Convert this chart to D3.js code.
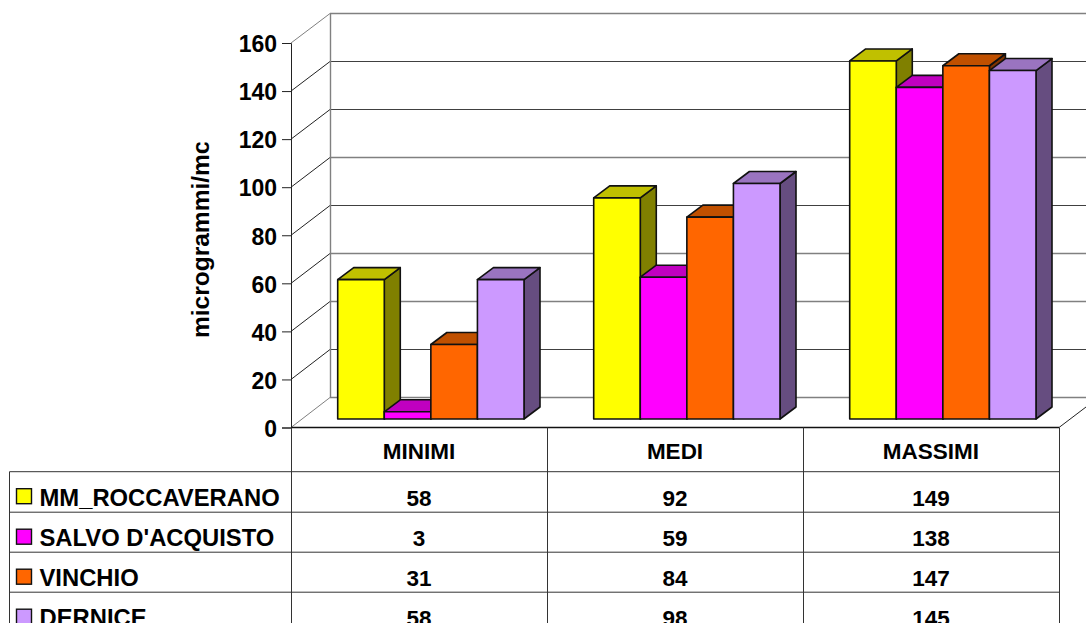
<!DOCTYPE html>
<html>
<head>
<meta charset="utf-8">
<script src="https://cdnjs.cloudflare.com/ajax/libs/d3/7.8.5/d3.min.js"></script>
<style>
html, body { margin: 0; padding: 0; background: #fff; overflow: hidden; }
text { font-family: "Liberation Sans", Arial, sans-serif; font-weight: bold; fill: #000; }
</style>
</head>
<body>
<div id="chart"></div>
<script>
var categories = ["MINIMI", "MEDI", "MASSIMI"];
var seriesNames = ["MM_ROCCAVERANO", "SALVO D'ACQUISTO", "VINCHIO", "DERNICE"];
var roccaverano = [58, 92, 149];
var salvo = [3, 59, 138];
var vinchio = [31, 84, 147];
var dernice = [58, 98, 145];
var seriesValues = [roccaverano, salvo, vinchio, dernice];
var yTicks = [0, 20, 40, 60, 80, 100, 120, 140, 160];

var frontColors = ["#ffff00", "#ff00ff", "#ff6600", "#cc99ff"];
var topColors = ["#c0c000", "#c000c0", "#c05000", "#9a74c0"];
var sideColors = ["#808000", "#800080", "#803300", "#664d80"];

var width = 1086, height = 623;
var plotLeft = 291, tableRight = 1059;
var wallDx = 39, wallDy = 29.6;
var barDx = 16, barDy = 12;
var floorLift = 8.5;   // bars stand a bit inside the floor
var rowTops = [427.5, 471.7, 512.2, 552.2, 592.2, 632.2];

var y = d3.scaleLinear().domain([0, 160]).range([427.5, 43]);

var x0 = d3.scaleBand()
	.domain(categories)
	.range([plotLeft, tableRight]);

// the bars fill 187 of the 256 px of a category
var x1 = d3.scaleBand()
	.domain(d3.range(seriesNames.length))
	.range([46.7, 233]);

var svg = d3.select("#chart").append("svg")
	.attr("width", width)
	.attr("height", height)
	.style("display", "block");

// back wall and side wall
var grid = svg.append("g").attr("fill", "none");

yTicks.forEach(function(t) {
	var gy = Math.floor(y(t) - wallDy) + 0.5;
	var light = t == 160 || t == 0 || t == 100 || t == 40 || t == 60;
	grid.append("line")
		.attr("x1", plotLeft + wallDx).attr("x2", width)
		.attr("y1", gy).attr("y2", gy)
		.attr("stroke", light ? "#808080" : "#404040")
		.attr("stroke-width", light ? 1.4 : 1);
	grid.append("line")
		.attr("x1", plotLeft).attr("x2", plotLeft + wallDx)
		.attr("y1", y(t)).attr("y2", gy)
		.attr("stroke", (t == 160 || t == 0) ? "#808080" : "#222");
});

grid.append("line")
	.attr("x1", plotLeft + wallDx + 0.5).attr("x2", plotLeft + wallDx + 0.5)
	.attr("y1", y(160) - wallDy).attr("y2", y(0) - wallDy)
	.attr("stroke", "#808080").attr("stroke-width", 1.4);

// floor edge on the right
grid.append("line")
	.attr("x1", tableRight).attr("x2", tableRight + wallDx)
	.attr("y1", y(0)).attr("y2", y(0) - wallDy)
	.attr("stroke", "#222");

// bars
function addBar(g, bx, bw, value, s) {
	var top = y(value) - floorLift;
	var base = y(0) - floorLift;

	g.append("path")
		.attr("d", d3.line()([[bx + bw, top], [bx + bw + barDx, top - barDy], [bx + bw + barDx, base - barDy], [bx + bw, base]]) + "Z")
		.attr("fill", sideColors[s]);
	g.append("path")
		.attr("d", d3.line()([[bx, top], [bx + barDx, top - barDy], [bx + bw + barDx, top - barDy], [bx + bw, top]]) + "Z")
		.attr("fill", topColors[s]);
	g.append("rect")
		.attr("x", bx).attr("y", top)
		.attr("width", bw).attr("height", base - top)
		.attr("fill", frontColors[s]);
}

var bars = svg.append("g")
	.attr("stroke", "#111")
	.attr("stroke-width", 1.6)
	.attr("stroke-linejoin", "round");

categories.forEach(function(c, i) {
	seriesValues.forEach(function(values, s) {
		addBar(bars, x0(c) + x1(s), x1.bandwidth(), values[i], s);
	});
});

// y axis
var yAxis = d3.axisLeft(y)
	.tickValues(yTicks)
	.tickSize(9)
	.tickPadding(5);

var axisG = svg.append("g")
	.attr("transform", "translate(" + plotLeft + ",0)")
	.call(yAxis);

axisG.select(".domain").attr("stroke", "#222");
axisG.selectAll(".tick line").attr("stroke", "#222");
axisG.selectAll("text")
	.style("font-family", "'Liberation Sans', Arial, sans-serif")
	.style("font-size", "23px")
	.style("font-weight", "bold")
	.attr("dy", "0.38em")
	.attr("fill", "#000");

// y title, cut off at the top like in the picture
svg.append("clipPath").attr("id", "titleClip")
	.append("rect").attr("x", 180).attr("y", 142.5).attr("width", 40).attr("height", 210);

svg.append("g").attr("clip-path", "url(#titleClip)")
	.append("text")
	.attr("transform", "translate(209,338) rotate(-90)")
	.style("font-size", "24.5px")
	.text("microgrammi/mc");

// data table
var table = svg.append("g").attr("stroke", "#333").attr("fill", "none");

table.append("line")
	.attr("x1", plotLeft).attr("x2", tableRight)
	.attr("y1", rowTops[0]).attr("y2", rowTops[0])
	.attr("stroke", "#111").attr("stroke-width", 1.3);

rowTops.slice(1).forEach(function(r) {
	table.append("line")
		.attr("x1", 9.5).attr("x2", tableRight + 0.5)
		.attr("y1", r).attr("y2", r);
});

x0.domain().concat("end").forEach(function(c) {
	var cx = c == "end" ? tableRight + 0.5 : x0(c) + 0.5;
	table.append("line")
		.attr("x1", cx).attr("x2", cx)
		.attr("y1", rowTops[0]).attr("y2", height);
});

table.append("line")
	.attr("x1", 9.5).attr("x2", 9.5)
	.attr("y1", rowTops[1]).attr("y2", height);

svg.append("g").selectAll("text")
	.data(categories)
	.join("text")
	.attr("x", function(c) { return x0(c) + x0.bandwidth() / 2; })
	.attr("y", 459)
	.attr("text-anchor", "middle")
	.style("font-size", "22.5px")
	.text(function(c) { return c; });

seriesNames.forEach(function(name, s) {
	var row = svg.append("g");
	var base = rowTops[s + 1] + 34;

	row.append("rect")
		.attr("x", 16.5).attr("y", base - 17)
		.attr("width", 15).attr("height", 15)
		.attr("fill", frontColors[s])
		.attr("stroke", "#111").attr("stroke-width", 1.4);

	row.append("text")
		.attr("x", 39.5).attr("y", base)
		.style("font-size", "23.8px")
		.text(name);

	row.selectAll("text.val")
		.data(seriesValues[s])
		.join("text")
		.attr("class", "val")
		.attr("x", function(d, i) { return x0(categories[i]) + x0.bandwidth() / 2; })
		.attr("y", base)
		.attr("text-anchor", "middle")
		.style("font-size", "22.5px")
		.text(function(d) { return d; });
});
</script>
</body>
</html>
